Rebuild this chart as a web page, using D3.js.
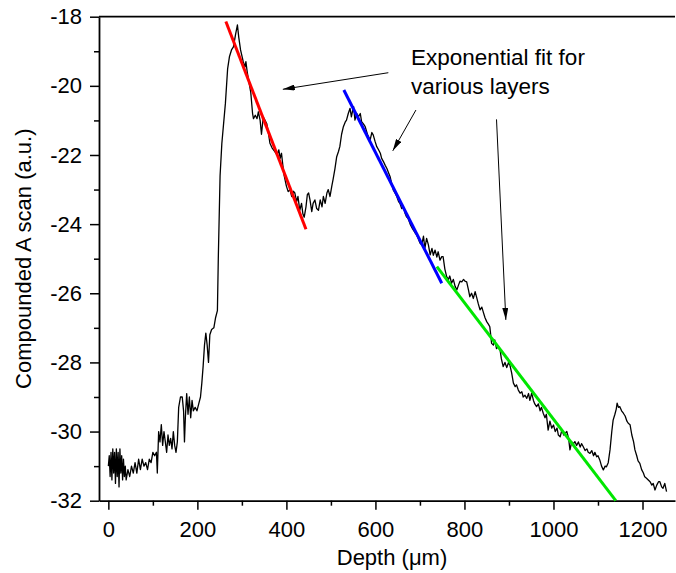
<!DOCTYPE html>
<html lang="en">
<head>
<meta charset="UTF-8">
<title>Compounded A scan</title>
<script src="https://d3js.org/d3.v7.min.js"></script>
<style>
  body { margin: 0; background: #fff; }
  svg text { font-family: "Liberation Sans", Arial, sans-serif; fill: #000; }
</style>
</head>
<body>
<svg id="chart"></svg>
<script>
// measured A scan, [depth (um), value (a.u.)]
const scan = [
  [0,-31.0],[2,-30.7],[4,-31.3],[6,-30.6],[8,-31.4],[10,-30.5],[12,-31.2],[14,-30.6],[16,-31.5],[18,-30.5],
  [20,-31.3],[22,-30.6],[24,-31.6],[26,-30.5],[28,-31.2],[30,-30.7],[32,-31.4],[34,-30.8],[36,-31.3],[38,-31.0],
  [40,-31.4],[44,-31.1],[48,-31.3],[52,-31.0],[56,-31.2],[60,-30.9],[64,-31.2],[68,-30.8],[72,-31.1],[76,-30.8],
  [80,-31.0],[84,-30.9],[88,-31.1],[92,-30.8],[96,-30.9],[100,-30.6],[104,-30.7],[108,-30.6],[110,-31.2],[113,-30.0],
  [116,-30.3],[119,-29.8],[122,-30.4],[125,-30.0],[128,-30.3],[131,-30.6],[134,-30.1],[137,-30.4],[140,-30.2],[143,-30.5],
  [146,-30.0],[149,-30.4],[152,-30.6],[155,-30.3],[158,-29.3],[162,-29.0],[166,-29.0],[169,-29.4],[171,-30.3],[173,-29.6],
  [176,-28.9],[179,-29.5],[182,-29.0],[185,-29.6],[188,-29.1],[191,-29.4],[195,-29.3],[199,-29.4],[203,-29.2],[207,-29.0],
  [210,-28.6],[213,-28.1],[216,-27.5],[219,-27.15],[222,-27.5],[225,-28.0],[228,-27.2],[232,-27.05],[237,-27.0],[241,-26.7],
  [245,-26.5],[247,-25.0],[251,-22.6],[255,-21.66],[263,-20.5],[268,-19.5],[272,-19.16],[277,-18.95],[281,-18.87],[286,-18.5],
  [290,-18.24],[293,-18.6],[297,-18.96],[303,-19.3],[307,-19.45],[309,-19.3],[312,-19.6],[316,-19.9],[320,-20.2],[324,-20.8],
  [326,-20.95],[330,-20.85],[334,-20.95],[337,-20.75],[341,-21.0],[344,-21.4],[348,-20.9],[352,-21.0],[356,-21.1],[360,-21.4],
  [363,-21.66],[368,-21.8],[374,-21.9],[379,-22.0],[383,-21.85],[386,-22.1],[389,-21.95],[392,-22.3],[395,-22.6],[400,-22.9],
  [404,-23.06],[408,-23.0],[412,-23.2],[416,-23.05],[419,-23.1],[423,-23.35],[426,-23.2],[430,-23.6],[434,-23.4],[437,-23.7],
  [440,-23.8],[444,-23.5],[447,-23.15],[450,-23.1],[453,-23.3],[457,-23.64],[460,-23.4],[464,-23.3],[468,-23.55],[472,-23.6],
  [476,-23.3],[480,-23.5],[483,-23.2],[487,-23.4],[491,-23.1],[494,-23.0],[498,-23.2],[502,-22.9],[505,-22.7],[509,-22.4],
  [513,-22.05],[517,-21.9],[520,-21.76],[524,-21.4],[528,-21.18],[532,-21.05],[535,-20.99],[539,-20.8],[543,-20.65],[546,-20.9],
  [549,-20.7],[551,-20.6],[554,-20.99],[558,-20.8],[562,-20.89],[566,-20.8],[569,-21.04],[573,-21.1],[577,-21.18],[582,-21.4],
  [588,-21.57],[592,-21.35],[595,-21.42],[599,-21.6],[603,-21.76],[607,-21.85],[611,-21.95],[614,-22.1],[618,-22.19],[622,-22.3],
  [626,-22.4],[629,-22.5],[633,-22.63],[636,-22.8],[640,-23.01],[644,-23.1],[648,-23.2],[652,-23.35],[655,-23.4],[659,-23.55],
  [663,-23.5],[667,-23.7],[670,-23.79],[674,-23.85],[678,-24.0],[682,-24.1],[685,-24.17],[689,-24.25],[692,-24.3],[696,-24.41],
  [700,-24.55],[704,-24.6],[708,-24.35],[711,-24.7],[715,-24.41],[719,-24.6],[723,-24.89],[727,-24.7],[730,-24.9],[734,-24.75],
  [738,-24.95],[741,-24.8],[745,-25.04],[749,-24.94],[752,-24.94],[756,-25.3],[760,-25.52],[764,-25.6],[767,-25.5],[771,-25.71],
  [775,-25.6],[779,-25.8],[783,-25.9],[787,-25.75],[790,-25.65],[794,-25.67],[798,-25.6],[801,-25.65],[805,-25.67],[809,-25.9],
  [812,-26.1],[816,-26.0],[820,-26.15],[824,-25.95],[828,-26.15],[831,-26.3],[835,-26.48],[839,-26.4],[842,-26.53],[846,-26.7],
  [850,-26.82],[854,-26.9],[857,-26.97],[861,-27.45],[865,-27.5],[868,-27.35],[872,-27.6],[876,-27.55],[880,-27.64],[883,-27.9],
  [887,-28.12],[891,-28.0],[895,-28.15],[899,-28.0],[902,-28.07],[906,-28.3],[910,-28.6],[914,-28.7],[917,-28.65],[921,-28.8],
  [925,-28.89],[929,-28.85],[932,-29.0],[936,-28.95],[940,-29.04],[944,-28.9],[947,-29.1],[951,-28.89],[955,-29.1],[958,-29.2],
  [962,-29.28],[966,-29.2],[970,-29.4],[973,-29.3],[977,-29.47],[981,-29.6],[984,-29.5],[988,-29.96],[992,-29.7],[996,-29.9],
  [1000,-29.81],[1004,-30.0],[1008,-29.9],[1011,-30.1],[1015,-30.15],[1019,-29.95],[1023,-30.1],[1026,-30.05],[1030,-30.0],[1034,-30.2],
  [1037,-30.53],[1041,-30.3],[1045,-30.35],[1048,-30.29],[1052,-30.4],[1056,-30.3],[1060,-30.45],[1063,-30.35],[1067,-30.44],[1071,-30.55],
  [1075,-30.5],[1078,-30.6],[1082,-30.63],[1086,-30.55],[1090,-30.7],[1093,-30.6],[1097,-30.73],[1100,-30.7],[1104,-30.82],[1108,-31.0],
  [1112,-31.11],[1116,-31.0],[1119,-31.02],[1123,-30.9],[1127,-30.53],[1131,-30.0],[1134,-29.67],[1138,-29.5],[1141,-29.35],[1143,-29.18],
  [1146,-29.3],[1149,-29.28],[1153,-29.4],[1157,-29.47],[1161,-29.55],[1165,-29.7],[1168,-29.76],[1172,-29.8],[1176,-30.1],[1180,-30.3],
  [1183,-30.53],[1187,-30.7],[1190,-30.85],[1194,-30.92],[1198,-31.1],[1202,-31.2],[1205,-31.31],[1209,-31.35],[1213,-31.4],[1217,-31.45],
  [1221,-31.55],[1224,-31.5],[1228,-31.69],[1232,-31.55],[1236,-31.45],[1239,-31.45],[1243,-31.6],[1246,-31.64],[1250,-31.5],[1254,-31.74]
];

// exponential fits (straight on this log scale), start and end points
const redFit = [[264, -18.14], [444, -24.15]];
const blueFit = [[529, -20.12], [749, -25.71]];
const greenFit = [[738, -25.23], [1140, -32.0]];

const xTicks = [0, 200, 400, 600, 800, 1000, 1200];
const xMinor = [100, 300, 500, 700, 900, 1100];
const yTicks = [-32, -30, -28, -26, -24, -22, -20, -18];
const yMinor = [-31, -29, -27, -25, -23, -21, -19];

const noteLines = ["Exponential fit for", "various layers"];
// arrows: [fromDepth, fromValue, toDepth, toValue]
const arrows = [
  [629, -19.62, 392, -20.10],
  [691, -20.70, 639, -21.88],
  [872, -20.97, 893, -26.77]
];

const W = 676, H = 573;
const plotL = 99, plotR = 675, plotT = 16.7, plotB = 500.7;

const svg = d3.select("#chart").attr("width", W).attr("height", H);

const x = d3.scaleLinear().domain([-21, 1273]).range([plotL, plotR]);
const y = d3.scaleLinear().domain([-32, -18]).range([plotB, plotT]);

svg.append("defs").append("marker")
  .attr("id", "head")
  .attr("viewBox", "0 0 12 6")
  .attr("refX", 12).attr("refY", 3)
  .attr("markerWidth", 12).attr("markerHeight", 6)
  .attr("markerUnits", "userSpaceOnUse")
  .attr("orient", "auto")
  .append("path").attr("d", "M0,0 L12,3 L0,6 Z").attr("fill", "#000");

// minor ticks first, then the labelled ones
svg.append("g")
  .attr("transform", `translate(0,${plotB})`)
  .call(d3.axisBottom(x).tickValues(xMinor).tickSize(5).tickFormat("").tickSizeOuter(0))
  .call(g => g.select(".domain").remove());
svg.append("g")
  .attr("transform", `translate(${plotL},0)`)
  .call(d3.axisLeft(y).tickValues(yMinor).tickSize(5).tickFormat("").tickSizeOuter(0))
  .call(g => g.select(".domain").remove());

const plain = d => String(d); // ASCII hyphen, no thousands comma

const xAxis = svg.append("g")
  .attr("transform", `translate(0,${plotB})`)
  .call(d3.axisBottom(x).tickValues(xTicks).tickFormat(plain).tickSize(9).tickPadding(12).tickSizeOuter(0));
const yAxis = svg.append("g")
  .attr("transform", `translate(${plotL},0)`)
  .call(d3.axisLeft(y).tickValues(yTicks).tickFormat(plain).tickSize(9).tickPadding(8).tickSizeOuter(0));

svg.selectAll(".tick line").attr("stroke", "#000").attr("stroke-width", 1.5);
svg.selectAll(".domain").attr("stroke", "#000").attr("stroke-width", 1.8);
[xAxis, yAxis].forEach(a => a.selectAll("text")
  .style("font-size", "22px").style("font-family", '"Liberation Sans", Arial, sans-serif'));

// top frame line
svg.append("line")
  .attr("x1", plotL).attr("x2", plotR).attr("y1", plotT).attr("y2", plotT)
  .attr("stroke", "#000").attr("stroke-width", 1.8);

const line = d3.line().x(d => x(d[0])).y(d => y(d[1]));

svg.append("path")
  .datum(scan)
  .attr("d", line)
  .attr("fill", "none")
  .attr("stroke", "#000")
  .attr("stroke-width", 1.3)
  .attr("stroke-linejoin", "round");

[[redFit, "#ff0000"], [blueFit, "#0000ff"], [greenFit, "#00e600"]].forEach(([pts, c]) => {
  svg.append("path")
    .datum(pts)
    .attr("d", line)
    .attr("fill", "none")
    .attr("stroke", c)
    .attr("stroke-width", 3);
});

// annotation
svg.selectAll(".note")
  .data(noteLines)
  .enter().append("text")
  .attr("class", "note")
  .attr("x", x(680))
  .attr("y", (d, i) => y(-19.4) + i * 29)
  .style("font-size", "22.5px")
  .text(d => d);

svg.selectAll(".arrow")
  .data(arrows)
  .enter().append("line")
  .attr("class", "arrow")
  .attr("x1", d => x(d[0])).attr("y1", d => y(d[1]))
  .attr("x2", d => x(d[2])).attr("y2", d => y(d[3]))
  .attr("stroke", "#000")
  .attr("stroke-width", 1)
  .attr("marker-end", "url(#head)");

// axis titles
svg.append("text")
  .attr("x", (plotL + plotR) / 2 + 5)
  .attr("y", 565)
  .attr("text-anchor", "middle")
  .style("font-size", "22px")
  .text("Depth (\u03bcm)");

svg.append("text")
  .attr("transform", `translate(31,${(plotT + plotB) / 2}) rotate(-90)`)
  .attr("text-anchor", "middle")
  .style("font-size", "22px")
  .text("Compounded A scan (a.u.)");
</script>
</body>
</html>
